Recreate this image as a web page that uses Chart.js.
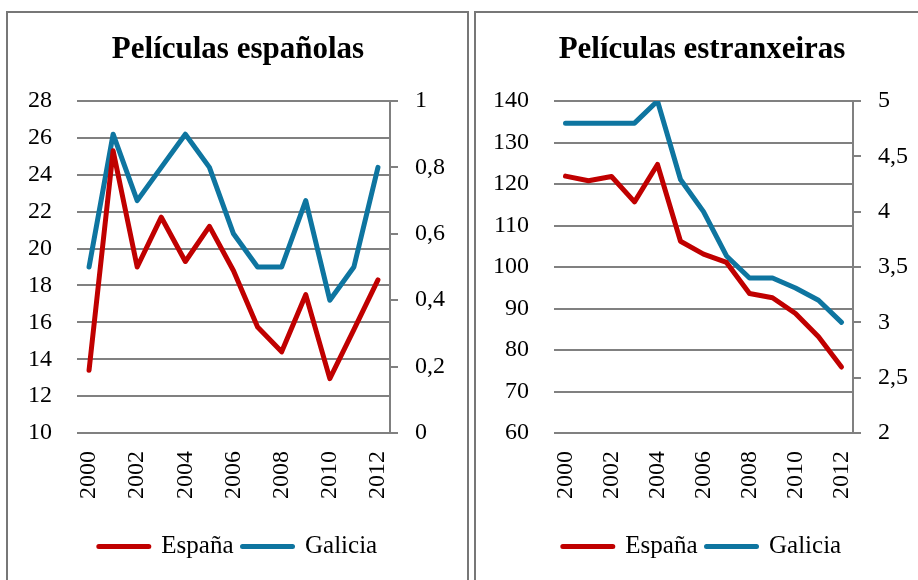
<!DOCTYPE html>
<html>
<head>
<meta charset="utf-8">
<script src="https://cdn.jsdelivr.net/npm/chart.js@4/dist/chart.umd.min.js"></script>
<style>
    body { margin: 0; width: 918px; height: 580px; overflow: hidden; background: #fff; position: relative; }
    .panel { position: absolute; top: 11px; height: 600px; border: 2px solid #777; border-bottom: none; box-sizing: border-box; }
    canvas { position: absolute; top: 0; }
</style>
</head>
<body>
<div class="panel" style="left:6px; width:463px;"></div>
<div class="panel" style="left:474px; width:460px;"></div>
<canvas id="spanishChart" style="left:0px; width:476px; height:580px;"></canvas>
<canvas id="foreignChart" style="left:470px; width:464px; height:580px;"></canvas>

<script>
const years = ["2000", "2001", "2002", "2003", "2004", "2005", "2006", "2007", "2008", "2009", "2010", "2011", "2012"];

// Películas españolas
const spainSpanish = [13.4, 25.3, 19.0, 21.7, 19.3, 21.2, 18.8, 15.75, 14.4, 17.5, 12.95, 15.6, 18.3];
const galiciaSpanish = [0.5, 0.9, 0.7, 0.8, 0.9, 0.8, 0.6, 0.5, 0.5, 0.7, 0.4, 0.5, 0.8];

// Películas estranxeiras
const spainForeign = [121.9, 120.8, 121.8, 115.7, 124.7, 106.2, 103.1, 101.1, 93.6, 92.6, 88.8, 83.2, 75.9];
const galiciaForeign = [4.8, 4.8, 4.8, 4.8, 5.0, 4.29, 4.0, 3.6, 3.4, 3.4, 3.31, 3.2, 3.0];

const RED = "#c00000";
const BLUE = "#0e75a0";
const GRID = "#808080";
const FONT = "'Liberation Serif', 'Times New Roman', serif";

function commaLabel(v) {
    return String(Math.round(v * 10) / 10).replace(".", ",");
}

function makeChart(id, title, spain, galicia, left, right, widths) {
    const ctx = document.getElementById(id);
    ctx.width = widths.canvas;
    ctx.height = 580;

    return new Chart(ctx, {
        type: "line",
        data: {
            labels: years,
            datasets: [
                { label: "España", data: spain, yAxisID: "y", borderColor: RED, backgroundColor: RED },
                { label: "Galicia", data: galicia, yAxisID: "y1", borderColor: BLUE, backgroundColor: BLUE }
            ]
        },
        options: {
            responsive: false,
            animation: false,
            layout: { padding: { left: 0, right: 0, top: 0, bottom: 11 } },
            elements: {
                line: { borderWidth: 5, tension: 0, borderJoinStyle: "round", borderCapStyle: "round" },
                point: { radius: 0 }
            },
            plugins: {
                title: {
                    display: true,
                    text: title,
                    color: "#000",
                    font: { family: FONT, size: 31, weight: "bold" },
                    padding: { top: 31.4, bottom: 32.4 }
                },
                legend: {
                    position: "bottom",
                    labels: {
                        color: "#000",
                        font: { family: FONT, size: 25 },
                        boxWidth: 50,
                        boxHeight: 0,
                        padding: 9
                    }
                },
                tooltip: { enabled: false }
            },
            scales: {
                x: {
                    offset: true,
                    grid: { display: false },
                    border: { display: false },
                    ticks: {
                        autoSkip: false,
                        maxRotation: 90,
                        minRotation: 90,
                        padding: 10,
                        color: "#000",
                        font: { family: FONT, size: 24 },
                        callback: (v, i) => (i % 2 === 0 ? years[i] : "")
                    },
                    afterFit: s => { s.height = 92; }
                },
                y: {
                    position: "left",
                    min: left.min, max: left.max,
                    grid: { color: GRID, lineWidth: 2, drawTicks: false },
                    border: { display: false },
                    ticks: {
                        stepSize: left.step,
                        padding: 25,
                        color: "#000",
                        font: { family: FONT, size: 24 }
                    },
                    afterFit: s => { s.width = widths.left; }
                },
                y1: {
                    position: "right",
                    min: right.min, max: right.max,
                    grid: { color: GRID, lineWidth: 2, drawOnChartArea: false, drawTicks: true, tickLength: 8 },
                    border: { display: true, color: GRID, width: 2 },
                    ticks: {
                        stepSize: right.step,
                        padding: 17,
                        color: "#000",
                        font: { family: FONT, size: 24 },
                        callback: v => commaLabel(v)
                    },
                    afterFit: s => { s.width = widths.right; }
                }
            }
        }
    });
}

makeChart("spanishChart", "Películas españolas", spainSpanish, galiciaSpanish,
    { min: 10, max: 28, step: 2 }, { min: 0, max: 1, step: 0.2 },
    { canvas: 476, left: 77, right: 86 });

makeChart("foreignChart", "Películas estranxeiras", spainForeign, galiciaForeign,
    { min: 60, max: 140, step: 10 }, { min: 2, max: 5, step: 0.5 },
    { canvas: 464, left: 84, right: 81 });
</script>
</body>
</html>
